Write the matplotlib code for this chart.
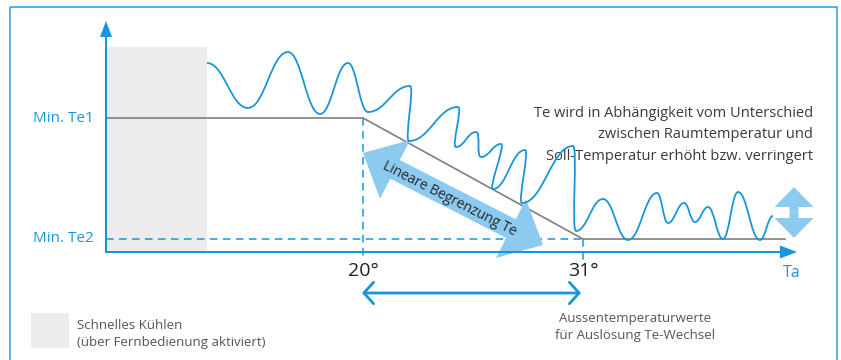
import matplotlib
matplotlib.use("Agg")
import matplotlib.pyplot as plt
from matplotlib.path import Path
from matplotlib.patches import PathPatch, Rectangle, FancyArrow

# ---------------- data (schematic, pixel-like units) ----------------
wave_x = [207, 248, 288, 320, 348, 368, 410, 409, 458, 456, 476, 481, 501, 493,
          525, 522, 573, 576, 603, 628, 657, 668, 684, 695, 708, 723, 738, 760, 773]
wave_y = [63, 108, 52, 114, 63, 112, 86, 141, 107, 147, 132, 157, 144, 189,
          150, 203, 146, 231, 199, 240, 193, 223, 203, 222, 207, 239, 192, 240, 216]

limit_x = [106, 363, 583, 785]     # Te limit line (gray)
limit_y = [118, 118, 239, 239]

y_te1, y_te2 = 118, 239
x_20, x_31 = 363, 583
axis_x0, axis_y0 = 106, 252
axis_top, axis_right = 21, 797
cool_x0, cool_x1, cool_top = 106, 207, 47

ylabels = ["Min. Te1", "Min. Te2"]
xlabels = ["20°", "31°"]
note_lines = "Te wird in Abhängigkeit vom Unterschied\nzwischen Raumtemperatur und\nSoll-Temperatur erhöht bzw. verringert"
range_text = "Aussentemperaturwerte\nfür Auslösung Te-Wechsel"
legend_text = "Schnelles Kühlen\n(über Fernbedienung aktiviert)"
arrow_text = "Lineare Begrenzung Te"

BLUE = "#1996da"
LIGHT = "#8ccaf0"
GRAY = "#7f7f7f"
TXT = "#3a3a3a"
FONT = ["Open Sans", "DejaVu Sans"]

fig = plt.figure(figsize=(8.41, 3.6), dpi=100)
ax = fig.add_axes([0, 0, 1, 1])
ax.set_xlim(0, 841)
ax.set_ylim(360, 0)
ax.axis("off")

# border
ax.add_patch(Rectangle((10, 7), 827, 360, fill=False, ec="#38a2e2", lw=1.2, zorder=1))

# cooling box
ax.add_patch(Rectangle((cool_x0, cool_top), cool_x1 - cool_x0, axis_y0 - cool_top,
                       fc="#ececec", ec="none", zorder=1))

# dashed guide lines
dash = dict(color=BLUE, lw=1.1, ls=(0, (5, 3.5)), zorder=2)
ax.plot([axis_x0, x_31], [y_te2, y_te2], **dash)
ax.plot([x_20, x_20], [y_te1, axis_y0 + 8], **dash)
ax.plot([x_31, x_31], [y_te2, axis_y0 + 8], **dash)

# limit line
ax.plot(limit_x, limit_y, color=GRAY, lw=1.2, zorder=3)

# big light double arrow (linear limitation)
ax_s, ay_s = 363, 153
ax_e, ay_e = 543, 245
mx, my = (ax_s + ax_e) / 2, (ay_s + ay_e) / 2
for ex, ey in [(ax_s, ay_s), (ax_e, ay_e)]:
    ax.add_patch(FancyArrow(mx, my, ex - mx, ey - my, width=21, head_width=66,
                            head_length=36, length_includes_head=True,
                            fc=LIGHT, ec="none", zorder=4))
ax.text(449, 199, arrow_text, rotation=-27, rotation_mode="anchor", ha="center",
        va="center", fontsize=10, color="#2a2a2a", family=FONT, zorder=6)

# wave as smooth bezier path through extrema (horizontal tangents at extrema)
verts = [(wave_x[0], wave_y[0])]
codes = [Path.MOVETO]
k = 0.42
hmin = 5.0
for i in range(len(wave_x) - 1):
    x0, y0, x1, y1 = wave_x[i], wave_y[i], wave_x[i + 1], wave_y[i + 1]
    h = max(k * abs(x1 - x0), hmin)
    verts += [(x0 + h, y0), (x1 - h, y1), (x1, y1)]
    codes += [Path.CURVE4] * 3
ax.add_patch(PathPatch(Path(verts, codes), fill=False, ec=BLUE, lw=1.3, zorder=5))

# axes with arrows
ax.add_patch(FancyArrow(axis_x0, axis_y0 + 1, 0, axis_top - axis_y0 - 1, width=2,
                        head_width=12, head_length=16, length_includes_head=True,
                        fc=BLUE, ec="none", zorder=6))
ax.add_patch(FancyArrow(axis_x0 - 1, axis_y0, axis_right - axis_x0 + 1, 0, width=2,
                        head_width=13, head_length=17, length_includes_head=True,
                        fc=BLUE, ec="none", zorder=6))

# up-down arrow on right
for sgn in (-1, 1):
    ax.add_patch(FancyArrow(794, 212.5, 0, sgn * 25.5, width=9, head_width=39,
                            head_length=20, length_includes_head=True,
                            fc=LIGHT, ec="none", zorder=4))

# labels
for lab, yy in zip(ylabels, [y_te1, y_te2]):
    ax.text(94, yy, lab, ha="right", va="center", fontsize=11, color=BLUE, family=FONT)
for lab, xx in zip(xlabels, [x_20, x_31]):
    ax.text(xx, 271, lab, ha="center", va="center", fontsize=14, color="#222222", family=FONT)
ax.text(792, 273, "Ta", ha="center", va="center", fontsize=11.5, color=BLUE, family=FONT)

ax.text(813, 135, note_lines, ha="right", va="center", fontsize=10.5, color=TXT,
        family=FONT, linespacing=1.6)

# horizontal double arrow
ax.annotate("", xy=(581, 293), xytext=(362, 293),
            arrowprops=dict(arrowstyle="<->,head_length=0.5,head_width=0.55",
                            color=BLUE, lw=2, mutation_scale=14, shrinkA=0, shrinkB=0))
ax.text(635, 327, range_text, ha="center", va="center", fontsize=9.5, color="#555555",
        family=FONT, linespacing=1.45, multialignment="center")

# legend
ax.add_patch(Rectangle((31, 313), 38, 35, fc="#ececec", ec="none"))
ax.text(77, 334, legend_text, ha="left", va="center", fontsize=9.5, color="#555555",
        family=FONT, linespacing=1.45)

fig.savefig("out.png", dpi=100)
